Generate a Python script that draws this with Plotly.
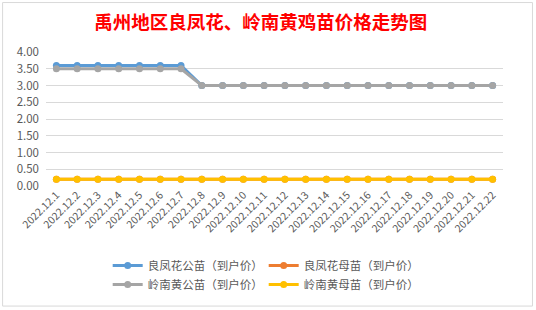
import plotly.graph_objects as go

dates = ["2022.12.%d" % d for d in range(1, 23)]
lf_male = [3.6]*7 + [3.0]*15
lf_female = [0.2]*22
ln_male = [3.5]*7 + [3.0]*15
ln_female = [0.2]*22

series = [
    ("良凤花公苗（到户价）", lf_male, "#5B9BD5"),
    ("良凤花母苗（到户价）", lf_female, "#ED7D31"),
    ("岭南黄公苗（到户价）", ln_male, "#A5A5A5"),
    ("岭南黄母苗（到户价）", ln_female, "#FFC000"),
]

fig = go.Figure()
for name, vals, col in series:
    fig.add_trace(go.Scatter(x=dates, y=vals, name=name, mode="lines+markers",
                             line=dict(color=col, width=3),
                             marker=dict(color=col, size=7)))

fig.update_layout(
    width=536, height=310,
    paper_bgcolor="white", plot_bgcolor="white",
    margin=dict(l=46, r=33, t=52, b=124, autoexpand=False),
    title=dict(text="<b>禹州地区良凤花、岭南黄鸡苗价格走势图</b>", x=0.47, xanchor="center",
               xref="paper", y=0.927, yanchor="middle",
               font=dict(family="Noto Sans CJK SC", size=18.5, color="#FF0000")),
    font=dict(family="Noto Sans CJK SC", color="#595959"),
    xaxis=dict(type="category", tickangle=-45, tickfont=dict(size=10.5, color="#595959"),
               showgrid=False, showline=False, ticks="", range=[-0.5, 21.5]),
    yaxis=dict(range=[0, 4], dtick=0.5, tickformat=".2f", gridcolor="#D9D9D9",
               tickfont=dict(size=11.5, color="#595959"), zeroline=False, showline=False,
               ticks="", ticklen=0, ticklabelstandoff=6),
    legend=dict(orientation="h", x=0.135, xanchor="left", yref="container", y=0.19, yanchor="top",
                font=dict(size=11.5, color="#595959"), entrywidth=111, entrywidthmode="pixels",
                tracegroupgap=0, itemwidth=30),
    showlegend=True,
    shapes=[dict(type="rect", xref="paper", yref="paper", x0=-0.095, x1=1.0645, y0=-0.896, y1=1.369,
                 line=dict(color="#D9D9D9", width=1))],
)
fig.write_html("out.html", config={"displayModeBar": False},
               post_script="document.body.style.margin='0';document.body.style.overflow='hidden';")
